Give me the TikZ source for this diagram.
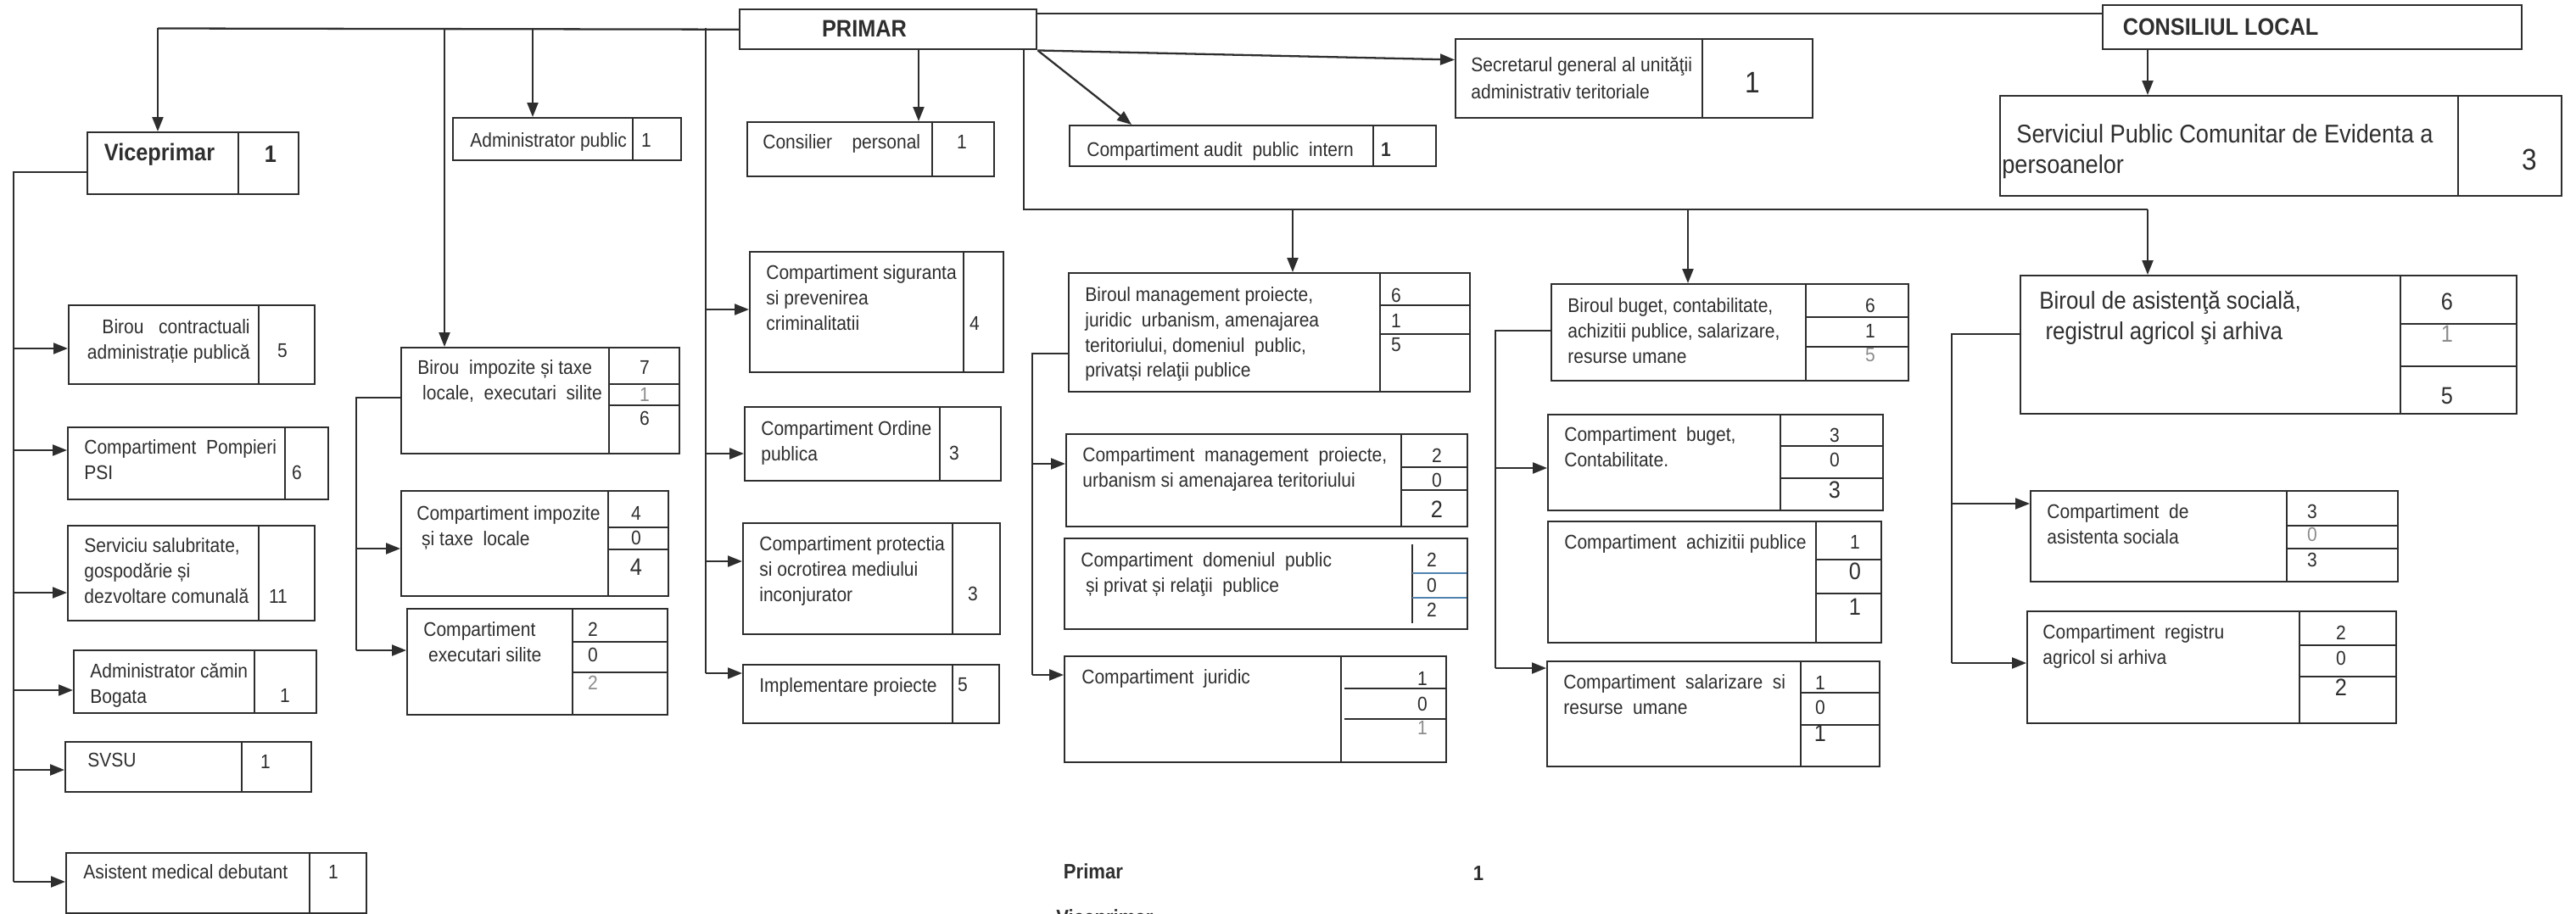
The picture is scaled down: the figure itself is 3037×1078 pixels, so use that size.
\documentclass[tikz,border=0pt]{standalone}
\usepackage{fontspec}
\setmainfont{Liberation Sans}[FakeStretch=0.9]
\usetikzlibrary{arrows.meta}

\def \px {0.02cm}
\def \bodyfont {\fontsize{13.3}{17}\selectfont}
\def \bigfont {\fontsize{16.5}{20.5}\selectfont}
\def \countfont {\fontsize{16}{19}\selectfont}
\def \headfont {\bfseries\fontsize{16}{19}\selectfont}

\definecolor{ink}{gray}{0.18}
\definecolor{faint}{gray}{0.55}
\definecolor{pen}{RGB}{80,130,175}

\tikzset{
  box/.style={draw=ink, line width=1.4pt, anchor=north west, inner sep=0pt},
  divline/.style={draw=ink, line width=1.2pt},
  link/.style={draw=ink, line width=1.3pt},
  linkarrow/.style={link, -{Triangle[length=0.34cm, width=0.26cm]}},
  boxtext/.style={anchor=north west, inner sep=0pt, align=left, font=\bodyfont, text=ink},
  cellnum/.style={inner sep=0pt, font=\bodyfont, text=ink},
  headtext/.style={inner sep=0pt, font=\headfont, text=ink},
}

% box with the count column: name, left, top, right, bottom, divider
\newcommand{\unitbox}[6]{%
  \node[box, minimum width={(#4-#2)*\px}, minimum height={(#5-#3)*\px}] (#1) at (#2,#3) {};
  \draw[divline] (#6,#3) -- (#6,#5);
}
% rules between the counts: left, right, first y, second y
\newcommand{\cellrules}[4]{%
  \draw[divline] (#1,#3) -- (#2,#3);
  \draw[divline] (#1,#4) -- (#2,#4);
}

\begin{document}
\begin{tikzpicture}[x=\px, y=-\px]
\useasboundingbox (0,0) rectangle (3037,1078);

% conducere
\node[box, minimum width=350*\px, minimum height=47*\px] (primar) at (871,10) {};
\node[headtext] (primar-t) at (1019,34) {PRIMAR};
\node[box, minimum width=494*\px, minimum height=52*\px] (consiliu) at (2478,5) {};
\node[headtext] (consiliu-t) at (2618,32) {CONSILIUL LOCAL};

\unitbox{vice}{102}{155}{351}{228}{281}
\node[headtext] (vice-t) at (188,182) {Viceprimar};
\node[headtext] (vice-n) at (319,182) {1};

\unitbox{admin}{533}{138}{802}{188}{746}
\node[boxtext] (admin-t) at (554,156) {Administrator public};
\node[cellnum] (admin-n) at (762,165) {1};

\unitbox{consil}{880}{143}{1171}{207}{1099}
\node[boxtext] (consil-t) at (899,158) {Consilier\ \ \ \ personal};
\node[cellnum] (consil-n) at (1134,167) {1};

\unitbox{audit}{1260}{147}{1692}{195}{1619}
\node[boxtext] (audit-t) at (1281,167) {Compartiment audit\ \ public\ \ intern};
\node[cellnum, font=\bfseries\bodyfont] (audit-n) at (1634,176) {1};

\unitbox{secretar}{1715}{45}{2136}{138}{2007}
\node[boxtext] (secretar-t) at (1734,67) {Secretarul general al unităţii\\[1pt]administrativ teritoriale};
\node[cellnum, font=\fontsize{20}{24}\selectfont] (secretar-n) at (2066,97) {1};

\unitbox{spcep}{2357}{112}{3019}{230}{2898}
\node[boxtext, font=\fontsize{17.2}{20.5}\selectfont] (spcep-t) at (2360,146) {\hspace{0.34cm}Serviciul Public Comunitar de Evidenta a\\persoanelor};
\node[cellnum, font=\fontsize{20}{24}\selectfont] (spcep-n) at (2982,188) {3};

% subordonate viceprimar
\unitbox{bcontr}{80}{359}{370}{452}{305}
\node[boxtext, align=right, anchor=north east] (bcontr-t) at (295,376) {Birou\ \ \ contractuali\\administrație publică};
\node[cellnum] (bcontr-n) at (333,414) {5};

\unitbox{psi}{79}{503}{386}{588}{336}
\node[boxtext] (psi-t) at (99,518) {Compartiment\ \ Pompieri\\PSI};
\node[cellnum] (psi-n) at (350,557) {6};

\unitbox{salub}{79}{619}{370}{731}{305}
\node[boxtext] (salub-t) at (99,634) {Serviciu salubritate,\\gospodărie și\\dezvoltare comunală};
\node[cellnum] (salub-n) at (328,703) {11};

\unitbox{camin}{86}{766}{372}{840}{300}
\node[boxtext] (camin-t) at (106,782) {Administrator cămin\\Bogata};
\node[cellnum] (camin-n) at (336,820) {1};

\unitbox{svsu}{76}{874}{366}{933}{285}
\node[boxtext] (svsu-t) at (103,888) {SVSU};
\node[cellnum] (svsu-n) at (313,898) {1};

\unitbox{asist}{77}{1005}{431}{1076}{365}
\node[boxtext] (asist-t) at (98,1019) {Asistent medical debutant};
\node[cellnum] (asist-n) at (393,1028) {1};

% impozite si taxe
\unitbox{bimp}{472}{409}{800}{534}{718}
\cellrules{718}{800}{453}{478}
\node[boxtext] (bimp-t) at (492,424) {Birou\ \ impozite și taxe\\\ locale,\ \ executari\ \ silite};
\node[cellnum] (bimp-a) at (760,433) {7};
\node[cellnum, text=faint] (bimp-b) at (760,465) {1};
\node[cellnum] (bimp-c) at (760,493) {6};

\unitbox{cimp}{472}{578}{787}{702}{717}
\cellrules{717}{787}{622}{648}
\node[boxtext] (cimp-t) at (491,596) {Compartiment impozite\\\ și taxe\ \ locale};
\node[cellnum] (cimp-a) at (750,605) {4};
\node[cellnum] (cimp-b) at (750,634) {0};
\node[cellnum, font=\countfont] (cimp-c) at (750,669) {4};

\unitbox{cexe}{479}{717}{786}{842}{675}
\cellrules{675}{786}{757}{793}
\node[boxtext] (cexe-t) at (499,733) {Compartiment\\\ executari silite};
\node[cellnum] (cexe-a) at (699,742) {2};
\node[cellnum] (cexe-b) at (699,772) {0};
\node[cellnum, text=faint] (cexe-c) at (699,805) {2};

% compartimente directe
\unitbox{sig}{883}{296}{1182}{438}{1136}
\node[boxtext] (sig-t) at (903,312) {Compartiment siguranta\\si prevenirea\\criminalitatii};
\node[cellnum] (sig-n) at (1149,381) {4};

\unitbox{ordine}{877}{479}{1179}{566}{1108}
\node[boxtext] (ordine-t) at (897,496) {Compartiment Ordine\\publica};
\node[cellnum] (ordine-n) at (1125,534) {3};

\unitbox{mediu}{875}{616}{1178}{747}{1123}
\node[boxtext] (mediu-t) at (895,632) {Compartiment protectia\\si ocrotirea mediului\\inconjurator};
\node[cellnum] (mediu-n) at (1147,700) {3};

\unitbox{impl}{875}{783}{1177}{852}{1123}
\node[boxtext] (impl-t) at (895,799) {Implementare proiecte};
\node[cellnum] (impl-n) at (1135,808) {5};

% management proiecte
\unitbox{bmgmt}{1259}{321}{1732}{461}{1627}
\cellrules{1627}{1732}{360}{394}
\node[boxtext] (bmgmt-t) at (1279,338) {Biroul management proiecte,\\juridic\ \ urbanism, amenajarea\\teritoriului, domeniul\ \ public,\\privatși relaţii publice};
\node[cellnum] (bmgmt-a) at (1646,348) {6};
\node[cellnum] (bmgmt-b) at (1646,378) {1};
\node[cellnum] (bmgmt-c) at (1646,407) {5};

\unitbox{cmgmt}{1256}{511}{1729}{620}{1652}
\cellrules{1652}{1729}{551}{578}
\node[boxtext] (cmgmt-t) at (1276,527) {Compartiment\ \ management\ \ proiecte,\\urbanism si amenajarea teritoriului};
\node[cellnum] (cmgmt-a) at (1694,537) {2};
\node[cellnum] (cmgmt-b) at (1694,566) {0};
\node[cellnum, font=\countfont] (cmgmt-c) at (1694,601) {2};

\node[box, minimum width=475*\px, minimum height=107*\px] (domen) at (1254,634) {};
\draw[divline] (1665,642) -- (1665,735);
\draw[pen, line width=1.2pt] (1665,676) -- (1729,676);
\draw[pen, line width=1.2pt] (1665,705) -- (1729,705);
\node[boxtext] (domen-t) at (1274,651) {Compartiment\ \ domeniul\ \ public\\\ și privat și relaţii\ \ publice};
\node[cellnum] (domen-a) at (1688,660) {2};
\node[cellnum] (domen-b) at (1688,690) {0};
\node[cellnum] (domen-c) at (1688,719) {2};

\unitbox{jur}{1254}{773}{1704}{898}{1581}
\cellrules{1585}{1704}{812}{848}
\node[boxtext] (jur-t) at (1275,789) {Compartiment\ \ juridic};
\node[cellnum] (jur-a) at (1677,800) {1};
\node[cellnum] (jur-b) at (1677,830) {0};
\node[cellnum, text=faint] (jur-c) at (1677,858) {1};

% buget contabilitate
\unitbox{bbug}{1828}{334}{2249}{448}{2129}
\cellrules{2129}{2249}{374}{409}
\node[boxtext] (bbug-t) at (1848,351) {Biroul buget, contabilitate,\\achizitii publice, salarizare,\\resurse umane};
\node[cellnum] (bbug-a) at (2205,360) {6};
\node[cellnum] (bbug-b) at (2205,390) {1};
\node[cellnum, text=faint] (bbug-c) at (2205,419) {5};

\unitbox{cbug}{1824}{488}{2219}{601}{2099}
\cellrules{2099}{2219}{526}{564}
\node[boxtext] (cbug-t) at (1844,503) {Compartiment\ \ buget,\\Contabilitate.};
\node[cellnum] (cbug-a) at (2163,513) {3};
\node[cellnum] (cbug-b) at (2163,542) {0};
\node[cellnum, font=\countfont] (cbug-c) at (2163,578) {3};

\unitbox{achiz}{1824}{614}{2217}{757}{2141}
\cellrules{2141}{2217}{660}{700}
\node[boxtext] (achiz-t) at (1844,630) {Compartiment\ \ achizitii publice};
\node[cellnum] (achiz-a) at (2187,639) {1};
\node[cellnum, font=\countfont] (achiz-b) at (2187,674) {0};
\node[cellnum, font=\countfont] (achiz-c) at (2187,716) {1};

\unitbox{sal}{1823}{779}{2215}{903}{2123}
\cellrules{2123}{2215}{817}{855}
\node[boxtext] (sal-t) at (1843,795) {Compartiment\ \ salarizare\ \ si\\resurse\ \ umane};
\node[cellnum] (sal-a) at (2146,805) {1};
\node[cellnum] (sal-b) at (2146,834) {0};
\node[cellnum, font=\countfont] (sal-c) at (2146,865) {1};

% asistenta sociala
\unitbox{basist}{2381}{324}{2966}{487}{2830}
\cellrules{2830}{2966}{382}{432}
\node[boxtext, font=\fontsize{16.4}{20.4}\selectfont] (basist-t) at (2404,343) {Biroul de asistenţă socială,\\\ registrul agricol şi arhiva};
\node[cellnum, font=\countfont] (basist-a) at (2885,356) {6};
\node[cellnum, font=\countfont, text=faint] (basist-b) at (2885,394) {1};
\node[cellnum, font=\countfont] (basist-c) at (2885,467) {5};

\unitbox{csoc}{2393}{578}{2826}{685}{2696}
\cellrules{2696}{2826}{620}{647}
\node[boxtext] (csoc-t) at (2413,594) {Compartiment\ \ de\\asistenta sociala};
\node[cellnum] (csoc-a) at (2726,603) {3};
\node[cellnum, text=faint] (csoc-b) at (2726,630) {0};
\node[cellnum] (csoc-c) at (2726,660) {3};

\unitbox{reg}{2389}{720}{2824}{852}{2711}
\cellrules{2711}{2824}{761}{798}
\node[boxtext] (reg-t) at (2408,736) {Compartiment\ \ registru\\agricol si arhiva};
\node[cellnum] (reg-a) at (2760,746) {2};
\node[cellnum] (reg-b) at (2760,776) {0};
\node[cellnum, font=\countfont] (reg-c) at (2760,811) {2};

% recapitulatie
\node[headtext, font=\bfseries\fontsize{14}{17}\selectfont] (sum-primar) at (1289,1028) {Primar};
\node[headtext, font=\bfseries\fontsize{14}{17}\selectfont] (sum-primar-n) at (1743,1030) {1};
\node[headtext, font=\bfseries\fontsize{14}{17}\selectfont, anchor=north west] (sum-vice) at (1245,1072) {Viceprimar};

% legaturi de sus
\coordinate (t0) at (186,33.5);
\coordinate (t1) at (524,33.5);
\coordinate (t2) at (628,33.5);
\coordinate (t3) at (832,33.5);
\draw[link] (primar.west) -- (t0);
\draw[linkarrow] (t0) -- (t0 |- vice.north);
\draw[linkarrow] (t1) -- (t1 |- bimp.north);
\draw[linkarrow] (t2) -- (t2 |- admin.north);

\coordinate (c0) at (1221,16);
\draw[link] (c0) -- (c0 -| consiliu.west);
\coordinate (k0) at (1083,57);
\draw[linkarrow] (k0) -- (k0 |- consil.north);
\draw[linkarrow] (primar.south east) -- (audit.170);
\draw[linkarrow] (primar.south east) -- (secretar.174);
\coordinate (l0) at (2532,57);
\draw[linkarrow] (l0) -- (l0 |- spcep.north);

% viceprimar
\coordinate (v0) at (16,203);
\coordinate (v1) at (16,411);
\coordinate (v2) at (16,531);
\coordinate (v3) at (16,699);
\coordinate (v4) at (16,814);
\coordinate (v5) at (16,908);
\coordinate (v6) at (16,1040);
\draw[link] (v0 -| vice.west) -- (v0) -- (v6);
\draw[linkarrow] (v1) -- (v1 -| bcontr.west);
\draw[linkarrow] (v2) -- (v2 -| psi.west);
\draw[linkarrow] (v3) -- (v3 -| salub.west);
\draw[linkarrow] (v4) -- (v4 -| camin.west);
\draw[linkarrow] (v5) -- (v5 -| svsu.west);
\draw[linkarrow] (v6) -- (v6 -| asist.west);

% birou impozite
\coordinate (i0) at (420,469);
\coordinate (i1) at (420,647);
\coordinate (i2) at (420,767);
\draw[link] (i0 -| bimp.west) -- (i0) -- (i2);
\draw[linkarrow] (i1) -- (i1 -| cimp.west);
\draw[linkarrow] (i2) -- (i2 -| cexe.west);

% compartimente directe
\coordinate (s1) at (832,365);
\coordinate (s2) at (832,535);
\coordinate (s3) at (832,662);
\coordinate (s4) at (832,794);
\draw[link] (t3) -- (s4);
\draw[linkarrow] (s1) -- (s1 -| sig.west);
\draw[linkarrow] (s2) -- (s2 -| ordine.west);
\draw[linkarrow] (s3) -- (s3 -| mediu.west);
\draw[linkarrow] (s4) -- (s4 -| impl.west);

% birouri
\coordinate (m0) at (1207,247);
\coordinate (m1) at (1524,247);
\coordinate (m2) at (1990,247);
\coordinate (m3) at (2532,247);
\draw[link] (m0 |- primar.south) -- (m0) -- (m3);
\draw[linkarrow] (m1) -- (m1 |- bmgmt.north);
\draw[linkarrow] (m2) -- (m2 |- bbug.north);
\draw[linkarrow] (m3) -- (m3 |- basist.north);

\coordinate (g0) at (1217,417);
\coordinate (g1) at (1217,547);
\coordinate (g2) at (1217,796);
\draw[link] (g0 -| bmgmt.west) -- (g0) -- (g2);
\draw[linkarrow] (g1) -- (g1 -| cmgmt.west);
\draw[linkarrow] (g2) -- (g2 -| jur.west);

\coordinate (u0) at (1763,390);
\coordinate (u1) at (1763,552);
\coordinate (u2) at (1763,788);
\draw[link] (u0 -| bbug.west) -- (u0) -- (u2);
\draw[linkarrow] (u1) -- (u1 -| cbug.west);
\draw[linkarrow] (u2) -- (u2 -| sal.west);

\coordinate (w0) at (2301,394);
\coordinate (w1) at (2301,594);
\coordinate (w2) at (2301,782);
\draw[link] (w0 -| basist.west) -- (w0) -- (w2);
\draw[linkarrow] (w1) -- (w1 -| csoc.west);
\draw[linkarrow] (w2) -- (w2 -| reg.west);
\end{tikzpicture}
\end{document}
